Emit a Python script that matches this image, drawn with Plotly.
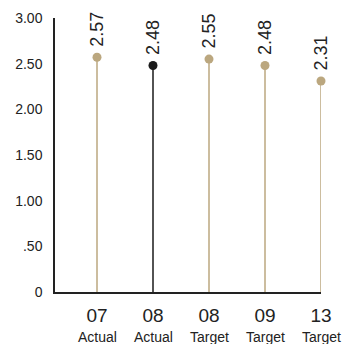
import plotly.graph_objects as go

years = ["07", "08", "08", "09", "13"]
kinds = ["Actual", "Actual", "Target", "Target", "Target"]
values = [2.57, 2.48, 2.55, 2.48, 2.31]
colors = ["#bba77f", "#1a1a1a", "#bba77f", "#bba77f", "#bba77f"]
y_ticks = [0, 0.5, 1.0, 1.5, 2.0, 2.5, 3.0]
y_tick_labels = ["0", ".50", "1.00", "1.50", "2.00", "2.50", "3.00"]

FONT = "Liberation Sans Narrow, Arial Narrow, Liberation Sans, sans-serif"
SANS = "Liberation Sans, Arial, sans-serif"

fig = go.Figure()
positions = list(range(len(values)))

for i, (v, c) in enumerate(zip(values, colors)):
    fig.add_trace(go.Scatter(
        x=[i, i], y=[0, v], mode="lines",
        line=dict(color=c, width=1.5),
        hoverinfo="skip", showlegend=False, cliponaxis=False,
    ))

fig.add_trace(go.Scatter(
    x=positions, y=values, mode="markers",
    marker=dict(color=colors, size=9),
    showlegend=False, cliponaxis=False,
))

# rotated value labels above each dot
for i, v in enumerate(values):
    fig.add_annotation(
        x=i, y=v, text=f"{v:.2f}", showarrow=False,
        textangle=-90, yanchor="bottom", yshift=8,
        font=dict(family=SANS, size=18, color="#222222"),
    )

# second line of each category label (Actual / Target)
for i, k in enumerate(kinds):
    fig.add_annotation(
        x=i, y=0, text=k, showarrow=False,
        yanchor="middle", yshift=-45,
        font=dict(family=FONT, size=14, color="#222222"),
    )

fig.update_layout(
    width=344, height=344,
    margin=dict(l=55, r=23, t=18, b=52),
    plot_bgcolor="white", paper_bgcolor="white",
    font=dict(family=FONT, color="#222222"),
    xaxis=dict(
        range=[-0.75, 4.0], tickvals=positions, ticktext=years,
        showgrid=False, zeroline=False, showline=True,
        linecolor="#222222", linewidth=1.5, ticks="",
        automargin=False, ticklabelstandoff=5,
        tickfont=dict(family=FONT, size=19, color="#222222"),
    ),
    yaxis=dict(
        range=[0, 3.0], tickvals=y_ticks, ticktext=y_tick_labels,
        showgrid=False, zeroline=False, showline=True,
        linecolor="#222222", linewidth=1.5, ticks="",
        automargin=False, ticklabelstandoff=8,
        tickfont=dict(family=SANS, size=14, color="#222222"),
    ),
)

fig.write_html("out.html")
